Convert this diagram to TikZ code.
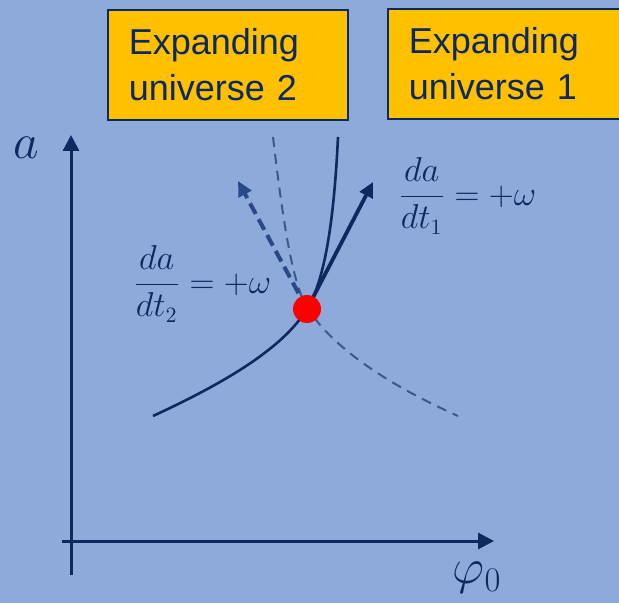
\documentclass[tikz,border=0pt]{standalone}
\usepackage{fontspec}
\newfontfamily\boxfont{Liberation Sans}
\usetikzlibrary{arrows.meta}
\definecolor{bg}{RGB}{142,170,219}
\definecolor{navy}{RGB}{14,40,96}
\definecolor{dashcol}{RGB}{62,88,140}
\definecolor{dasharr}{RGB}{40,72,136}
\definecolor{boxfill}{RGB}{255,192,0}
\definecolor{dotred}{RGB}{255,0,0}
\tikzset{
  ubox/.style={draw=navy, line width=0.8pt, fill=boxfill, anchor=north west,
    inner xsep=10.5pt, inner ysep=0pt, align=left, minimum height=55pt,
    text=navy, font=\boxfont\fontsize{18}{23}\selectfont},
  axis/.style={draw=navy, line width=1.5pt, -{Triangle[length=8pt,width=8pt]}},
  curve/.style={draw=navy, line width=1.3pt},
  thindash/.style={draw=dashcol, line width=1pt, dash pattern=on 5pt off 3.5pt},
  solarrow/.style={draw=navy, line width=1.9pt, -{Triangle[length=7.5pt,width=7pt]}},
  dasharrow/.style={draw=dasharr, line width=2pt, dash pattern=on 6pt off 3pt, -{Triangle[length=7.5pt,width=7pt]}},
  mlabel/.style={text=navy, inner sep=0pt}
}
\begin{document}
\begin{tikzpicture}[x=0.5pt,y=-0.5pt]
\useasboundingbox (0,0) rectangle (619,603);
\fill[bg] (0,0) rectangle (619,603);
% boxes
\node[ubox, text width=99pt] (box2) at (107,9) {Expanding\\universe 2};
\node[ubox, text width=140pt] (box1) at (387,8) {Expanding\\universe 1};
% axes
\coordinate (yb) at (71,575);
\coordinate (yt) at (71,135);
\coordinate (xl) at (62,541);
\coordinate (xr) at (494,541);
\draw[axis] (yb) -- (yt);
\draw[axis] (xl) -- (xr);
\node[mlabel, font=\fontsize{31}{33}\selectfont] (alab) at (26,148) {$a$};
\node[mlabel, font=\fontsize{27}{30}\selectfont] (philab) at (477,578) {$\varphi_0$};
% curves
\coordinate (p) at (307,309);
\coordinate (c1s) at (153,416);
\coordinate (c1e) at (338,137);
\coordinate (d1s) at (273,137);
\coordinate (d1e) at (458,416);
\coordinate (d1m) at (310,312);
\draw[curve] (c1s) .. controls (220,385) and (282,350) .. (p) .. controls (325,280) and (334,220) .. (c1e);
\draw[thindash] (d1s) .. controls (285,240) and (295,292) .. (d1m) .. controls (340,355) and (400,390) .. (d1e);
\coordinate (a1) at (373,182);
\coordinate (a2) at (238,181);
\draw[solarrow] (p) -- (a1);
\draw[dasharrow] (p) -- (a2);
\fill[dotred] (p) circle (14);
\node[mlabel, font=\fontsize{16}{19}\selectfont, anchor=west] (lab1) at (398,196) {$\displaystyle\frac{da}{dt_1}=+\omega$};
\node[mlabel, font=\fontsize{16}{19}\selectfont, anchor=west] (lab2) at (133,284) {$\displaystyle\frac{da}{dt_2}=+\omega$};
\end{tikzpicture}
\end{document}
